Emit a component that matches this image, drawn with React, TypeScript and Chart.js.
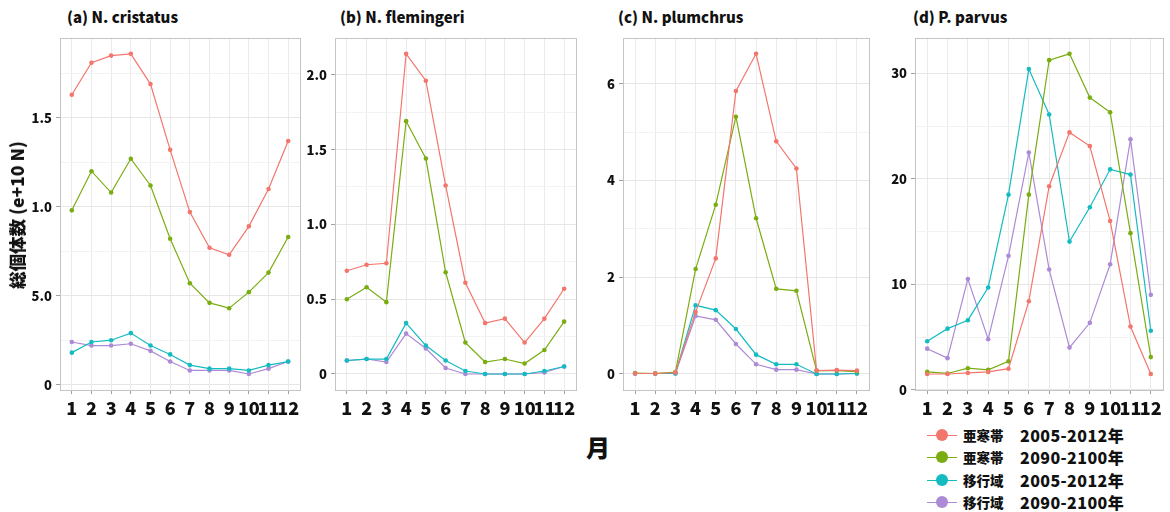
import React, { useEffect, useRef } from "react";
import { Chart, registerables } from "chart.js";

Chart.register(...registerables);

// ---------- data ----------
const months = [1, 2, 3, 4, 5, 6, 7, 8, 9, 10, 11, 12];
const monthLabels = ["1", "2", "3", "4", "5", "6", "7", "8", "9", "10", "11", "12"];

const regionLabels = ["亜寒帯", "亜寒帯", "移行域", "移行域"];
const periodLabels = ["2005-2012年", "2090-2100年", "2005-2012年", "2090-2100年"];
const seriesColors = ["#F3766C", "#7AAD12", "#14BCC2", "#AD8AD6"];

const panelTitles = ["(a) N. cristatus", "(b) N. flemingeri", "(c) N. plumchrus", "(d) P. parvus"];

// (a) N. cristatus
const cristatusSubarcticPresent = [1.63, 1.81, 1.85, 1.86, 1.69, 1.32, 0.97, 0.77, 0.73, 0.89, 1.10, 1.37];
const cristatusSubarcticFuture = [0.98, 1.20, 1.08, 1.27, 1.12, 0.82, 0.57, 0.46, 0.43, 0.52, 0.63, 0.83];
const cristatusTransitionPresent = [0.18, 0.24, 0.25, 0.29, 0.22, 0.17, 0.11, 0.09, 0.09, 0.08, 0.11, 0.13];
const cristatusTransitionFuture = [0.24, 0.22, 0.22, 0.23, 0.19, 0.13, 0.08, 0.08, 0.08, 0.06, 0.09, 0.13];
const cristatusTicks = [0, 0.5, 1.0, 1.5];
const cristatusTickLabels = ["0", "5.0", "1.0", "1.5"];

// (b) N. flemingeri
const flemingeriSubarcticPresent = [0.69, 0.73, 0.74, 2.14, 1.96, 1.26, 0.61, 0.34, 0.37, 0.21, 0.37, 0.57];
const flemingeriSubarcticFuture = [0.50, 0.58, 0.48, 1.69, 1.44, 0.68, 0.21, 0.08, 0.10, 0.07, 0.16, 0.35];
const flemingeriTransitionPresent = [0.09, 0.10, 0.10, 0.34, 0.19, 0.09, 0.02, 0.00, 0.00, 0.00, 0.02, 0.05];
const flemingeriTransitionFuture = [0.09, 0.10, 0.08, 0.27, 0.17, 0.04, 0.00, 0.00, 0.00, 0.00, 0.01, 0.05];
const flemingeriTicks = [0, 0.5, 1.0, 1.5, 2.0];
const flemingeriTickLabels = ["0", "0.5", "1.0", "1.5", "2.0"];

// (c) N. plumchrus
const plumchrusSubarcticPresent = [0.01, 0.01, 0.03, 1.28, 2.39, 5.85, 6.62, 4.81, 4.25, 0.07, 0.08, 0.07];
const plumchrusSubarcticFuture = [0.02, 0.01, 0.04, 2.17, 3.50, 5.32, 3.22, 1.76, 1.72, 0.07, 0.07, 0.05];
const plumchrusTransitionPresent = [0.01, 0.01, 0.01, 1.42, 1.32, 0.93, 0.40, 0.20, 0.20, 0.00, 0.00, 0.01];
const plumchrusTransitionFuture = [0.01, 0.01, 0.01, 1.20, 1.12, 0.62, 0.20, 0.09, 0.09, 0.00, 0.00, 0.01];
const plumchrusTicks = [0, 2, 4, 6];
const plumchrusTickLabels = ["0", "2", "4", "6"];

// (d) P. parvus
const parvusSubarcticPresent = [1.5, 1.5, 1.6, 1.7, 2.0, 8.4, 19.3, 24.4, 23.1, 16.0, 6.0, 1.5];
const parvusSubarcticFuture = [1.7, 1.55, 2.05, 1.9, 2.7, 18.5, 31.25, 31.85, 27.7, 26.3, 14.85, 3.1];
const parvusTransitionPresent = [4.6, 5.8, 6.6, 9.7, 18.5, 30.4, 26.1, 14.05, 17.3, 20.9, 20.4, 5.6];
const parvusTransitionFuture = [3.9, 3.0, 10.5, 4.8, 12.7, 22.5, 11.4, 4.0, 6.35, 11.9, 23.75, 9.0];
const parvusTicks = [0, 10, 20, 30];
const parvusTickLabels = ["0", "10", "20", "30"];

// ---------- layout ----------
const FONT = "'Noto Sans CJK JP', 'Noto Sans', sans-serif";
const PLOT_TOP = 31;
const PLOT_BOTTOM = 390;
const Y_AXIS_W = 35;
const X_AXIS_H = 32;
const PAD = 5;

type PanelDef = {
  title: string;
  titleX: number;
  left: number;
  right: number;
  series: number[][];
  ticks: number[];
  tickLabels: string[];
};

const panels: PanelDef[] = [
  {
    title: panelTitles[0], titleX: 67, left: 60, right: 300,
    series: [cristatusSubarcticPresent, cristatusSubarcticFuture, cristatusTransitionPresent, cristatusTransitionFuture],
    ticks: cristatusTicks, tickLabels: cristatusTickLabels,
  },
  {
    title: panelTitles[1], titleX: 340, left: 335, right: 576,
    series: [flemingeriSubarcticPresent, flemingeriSubarcticFuture, flemingeriTransitionPresent, flemingeriTransitionFuture],
    ticks: flemingeriTicks, tickLabels: flemingeriTickLabels,
  },
  {
    title: panelTitles[2], titleX: 618, left: 623, right: 869,
    series: [plumchrusSubarcticPresent, plumchrusSubarcticFuture, plumchrusTransitionPresent, plumchrusTransitionFuture],
    ticks: plumchrusTicks, tickLabels: plumchrusTickLabels,
  },
  {
    title: panelTitles[3], titleX: 913, left: 915, right: 1163,
    series: [parvusSubarcticPresent, parvusSubarcticFuture, parvusTransitionPresent, parvusTransitionFuture],
    ticks: parvusTicks, tickLabels: parvusTickLabels,
  },
];

const borderPlugin = {
  id: "panelBorder",
  afterDraw(chart: any) {
    const { ctx, chartArea } = chart;
    ctx.save();
    ctx.strokeStyle = "#c4c4c4";
    ctx.lineWidth = 1;
    ctx.strokeRect(
      Math.round(chartArea.left) + 0.5,
      Math.round(chartArea.top) + 0.5,
      Math.round(chartArea.right - chartArea.left),
      Math.round(chartArea.bottom - chartArea.top)
    );
    ctx.restore();
  },
};

function Panel({ p }: { p: PanelDef }) {
  const ref = useRef<HTMLCanvasElement | null>(null);
  const width = p.right - p.left + Y_AXIS_W + PAD;
  const height = PLOT_BOTTOM - PLOT_TOP + PAD + X_AXIS_H;

  useEffect(() => {
    if (!ref.current) return;
    const all = p.series.flat();
    const lo = Math.min(...all);
    const hi = Math.max(...all);
    const expand = (hi - lo) * 0.05;
    const step = p.ticks[1] - p.ticks[0];
    const minor = p.ticks.map((t) => t + step / 2);
    const yTickValues = [...p.ticks, ...minor].sort((a, b) => a - b);
    const isMajor = (v: number) => p.ticks.some((t) => Math.abs(t - v) < 1e-9);

    const chart = new Chart(ref.current, {
      type: "line",
      data: {
        datasets: p.series.map((s, i) => ({
          label: regionLabels[i] + " " + periodLabels[i],
          data: s.map((v, j) => ({ x: months[j], y: v })),
          borderColor: seriesColors[i],
          backgroundColor: seriesColors[i],
          borderWidth: 1.2,
          pointRadius: 2.3,
          pointBorderWidth: 0,
          pointBackgroundColor: seriesColors[i],
          tension: 0,
          fill: false,
        })),
      },
      options: {
        animation: false,
        responsive: false,
        devicePixelRatio: 1,
        layout: { padding: { top: PAD, right: PAD, left: 0, bottom: 0 } },
        plugins: { legend: { display: false }, tooltip: { enabled: false }, title: { display: false } },
        scales: {
          x: {
            type: "linear",
            min: 0.4,
            max: 12.6,
            afterBuildTicks: (scale: any) => {
              scale.ticks = months.map((m) => ({ value: m }));
            },
            afterFit: (scale: any) => {
              scale.height = X_AXIS_H;
            },
            grid: {
              color: "#ebebeb",
              lineWidth: 1,
              drawTicks: true,
              tickLength: 4,
              tickColor: "#a0a0a0",
            },
            border: { display: false },
            ticks: {
              autoSkip: false,
              maxRotation: 0,
              minRotation: 0,
              padding: 3,
              color: "#111",
              font: { family: FONT, size: 18, weight: 900 },
              callback: (v: any) => monthLabels[months.indexOf(Number(v))] ?? "",
            },
          },
          y: {
            type: "linear",
            min: lo - expand,
            max: hi + expand,
            afterBuildTicks: (scale: any) => {
              scale.ticks = yTickValues
                .filter((v) => v >= lo - expand && v <= hi + expand)
                .map((v) => ({ value: v }));
            },
            afterFit: (scale: any) => {
              scale.width = Y_AXIS_W;
            },
            grid: {
              color: (ctx: any) => (isMajor(ctx.tick?.value) ? "#e6e6e6" : "#f3f3f3"),
              lineWidth: 1,
              drawTicks: true,
              tickLength: 4,
              tickColor: (ctx: any) => (isMajor(ctx.tick?.value) ? "#a0a0a0" : "rgba(0,0,0,0)"),
            },
            border: { display: false },
            ticks: {
              padding: 4,
              color: "#111",
              font: { family: FONT, size: 13, weight: 900 },
              callback: (v: any) => {
                const idx = p.ticks.findIndex((t) => Math.abs(t - Number(v)) < 1e-9);
                return idx >= 0 ? p.tickLabels[idx] : "";
              },
            },
          },
        },
      },
      plugins: [borderPlugin],
    } as any);
    return () => chart.destroy();
  }, [p]);

  return (
    <canvas
      ref={ref}
      width={width}
      height={height}
      style={{
        position: "absolute",
        left: p.left - Y_AXIS_W,
        top: PLOT_TOP - PAD,
        width,
        height,
      }}
    />
  );
}

const legendRowsY = [435, 457, 480, 502];

export default function App() {
  return (
    <div
      style={{
        position: "fixed",
        left: 0,
        top: 0,
        width: 1170,
        height: 512,
        background: "#fff",
        overflow: "hidden",
        fontFamily: FONT,
      }}
    >
      {panels.map((p, i) => (
        <React.Fragment key={i}>
          <div
            style={{
              position: "absolute",
              left: p.titleX,
              top: 7,
              lineHeight: "20px",
              fontSize: 15,
              fontWeight: 900,
              color: "#111",
              whiteSpace: "nowrap",
            }}
          >
            {p.title}
          </div>
          <Panel p={p} />
        </React.Fragment>
      ))}

      {/* y axis title */}
      <div
        style={{
          position: "absolute",
          left: 17,
          top: 215,
          transform: "translate(-50%, -50%) rotate(-90deg)",
          fontSize: 17.5,
          fontWeight: 900,
          color: "#111",
          whiteSpace: "nowrap",
          lineHeight: "20px",
        }}
      >
        総個体数 (e+10 N)
      </div>

      {/* x axis title */}
      <div
        style={{
          position: "absolute",
          left: 598,
          top: 447,
          transform: "translate(-50%, -50%)",
          fontSize: 24,
          fontWeight: 900,
          color: "#111",
          lineHeight: "28px",
        }}
      >
        月
      </div>

      {/* legend */}
      {seriesColors.map((c, i) => (
        <div
          key={i}
          style={{
            position: "absolute",
            left: 927,
            top: legendRowsY[i] - 11,
            height: 22,
            whiteSpace: "nowrap",
          }}
        >
          <div style={{ position: "absolute", left: 0, top: 10.5, width: 30, height: 1.3, background: c }} />
          <div
            style={{
              position: "absolute",
              left: 9,
              top: 5,
              width: 12,
              height: 12,
              borderRadius: "50%",
              background: c,
            }}
          />
          <div
            style={{
              position: "absolute",
              left: 36,
              top: 0,
              lineHeight: "22px",
              fontSize: 13.5,
              fontWeight: 900,
              color: "#111",
            }}
          >
            {regionLabels[i]}
          </div>
          <div
            style={{
              position: "absolute",
              left: 93,
              top: 0,
              lineHeight: "22px",
              fontSize: 16,
              fontWeight: 900,
              color: "#111",
              letterSpacing: 0.4,
            }}
          >
            {periodLabels[i]}
          </div>
        </div>
      ))}
    </div>
  );
}
